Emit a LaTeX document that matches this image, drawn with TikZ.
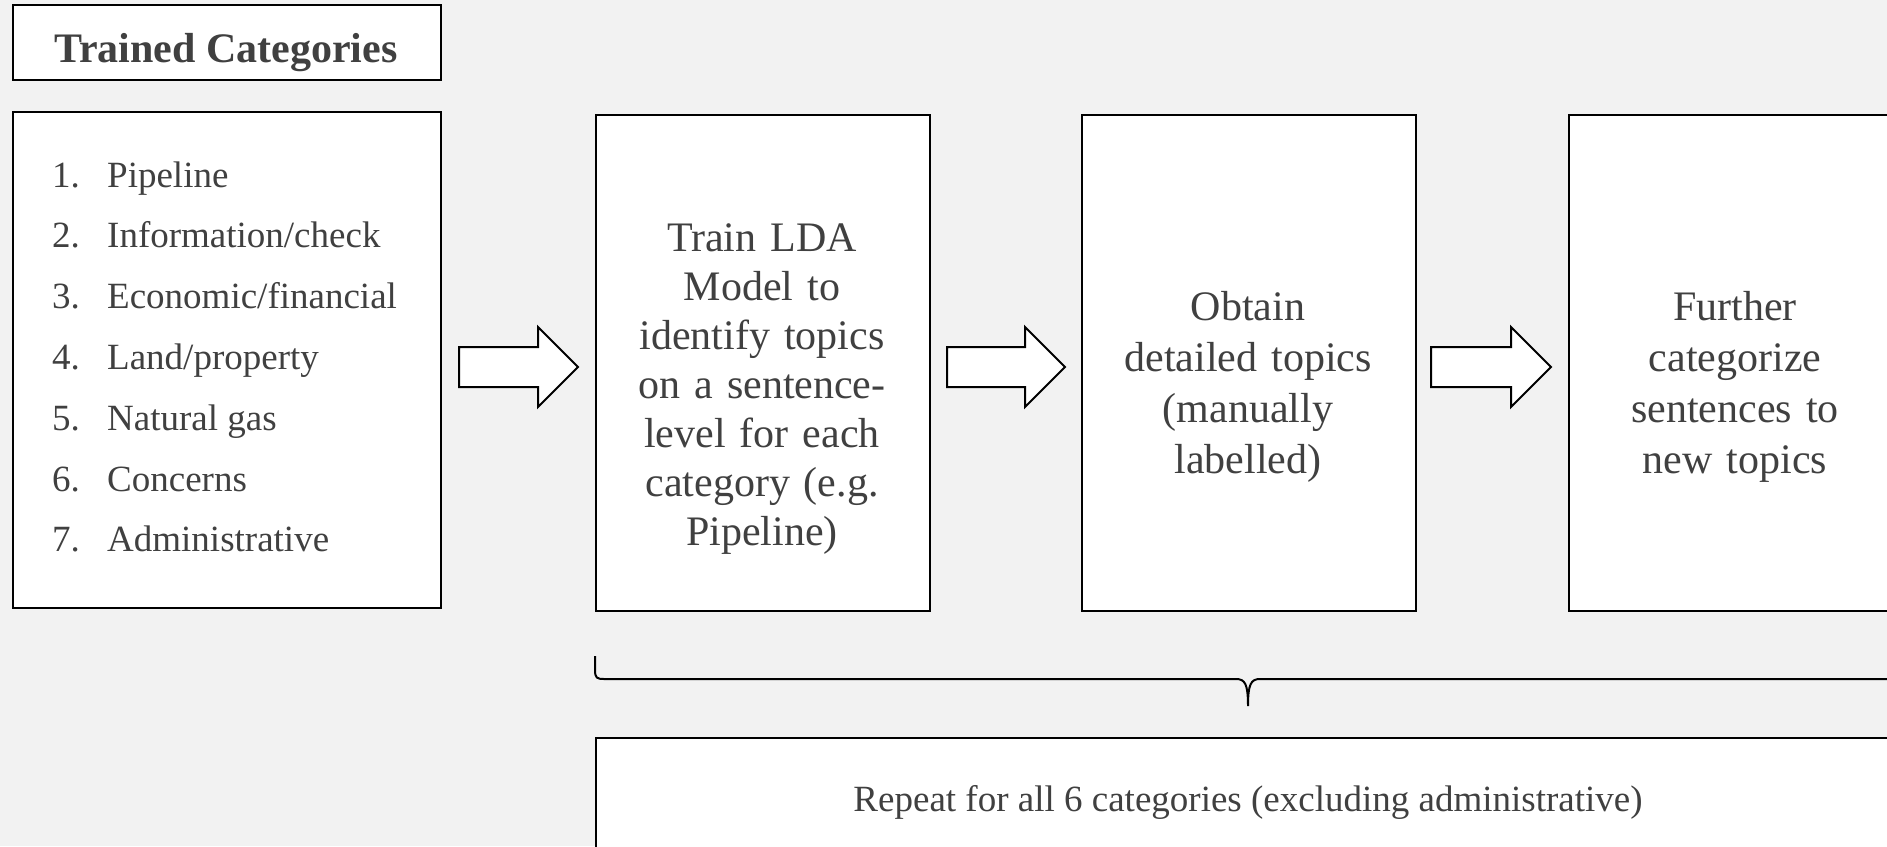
\documentclass[tikz,border=0pt]{standalone}
\usepackage{fontspec}
\setmainfont{Liberation Serif}
\usetikzlibrary{calc}
\definecolor{bgc}{HTML}{F2F2F2}
\definecolor{txt}{HTML}{404040}
\newcommand\blockarr[2]{%
  \draw[blockarrow] ($(#1)+(0,-20)$) -- ($(#2)+(-40,-20)$) -- ($(#2)+(-40,-40)$) -- (#2)
    -- ($(#2)+(-40,40)$) -- ($(#2)+(-40,20)$) -- ($(#1)+(0,20)$) -- cycle;}
\begin{document}
\begin{tikzpicture}[x=1pt,y=-1pt,
  box/.style={draw=black, fill=white, line width=2pt, inner sep=0pt, anchor=north west},
  boxtext/.style={text=txt, text width=330pt, align=center, anchor=base, inner sep=0pt},
  listtext/.style={text=txt, anchor=base west, inner sep=0pt, font=\fontsize{37}{44}\selectfont},
  blockarrow/.style={draw=black, fill=white, line width=2pt, line join=miter},
  bracestyle/.style={draw=black, line width=2pt}]
\useasboundingbox (0,0) rectangle (1887,846);
\clip (0,0) rectangle (1887,846);
\fill[bgc] (0,0) rectangle (1887,846);

% title
\node[box, minimum width=428pt, minimum height=75pt] (title) at (12,4) {};
\node[text=txt, anchor=base, inner sep=0pt, font=\fontsize{42}{49}\selectfont\bfseries] (titletext) at (226,62) {Trained Categories};

% list box
\node[box, minimum width=428pt, minimum height=496pt] (list) at (12,111) {};
\foreach \n/\t [count=\k from 0] in {1/Pipeline, 2/Information\slash check, 3/Economic\slash financial, 4/Land\slash property, 5/Natural gas, 6/Concerns, 7/Administrative}{
  \node[listtext] (num\n) at (52,187+60.8*\k) {\n.};
  \node[listtext] (item\n) at (107,187+60.8*\k) {\t};
}

% process boxes
\node[box, minimum width=334pt, minimum height=496pt] (b2) at (595,114) {};
\node[box, minimum width=334pt, minimum height=496pt] (b3) at (1081,114) {};
\node[box, minimum width=334pt, minimum height=496pt] (b4) at (1568,114) {};

\node[boxtext, font=\fontsize{42}{49}\selectfont] (t2) at (762,251.5)
  {Train LDA\\ Model to\\ identify topics\\ on a sentence-\\ level for each\\ category (e.g.\\ Pipeline)};
\node[boxtext, font=\fontsize{42}{51}\selectfont] (t3) at (1248,320.5)
  {Obtain\\ detailed topics\\ (manually\\ labelled)};
\node[boxtext, font=\fontsize{42}{51}\selectfont] (t4) at (1735,320.5)
  {Further\\ categorize\\ sentences to\\ new topics};

% block arrows
\coordinate (a1s) at (459,367); \coordinate (a1e) at (578,367);
\coordinate (a2s) at (947,367); \coordinate (a2e) at (1065,367);
\coordinate (a3s) at (1431,367); \coordinate (a3e) at (1551,367);
\blockarr{a1s}{a1e}
\blockarr{a2s}{a2e}
\blockarr{a3s}{a3e}

% brace
\coordinate (brL) at (595,656);
\coordinate (brT) at (1248,706);
\coordinate (brR) at (1901,656);
\draw[bracestyle] (brL) -- (595,670) .. controls (595,678) and (597,679) .. (604,679)
  -- (1236,679) .. controls (1245,679) and (1248,684) .. (brT)
  .. controls (1248,684) and (1251,679) .. (1260,679)
  -- (1892,679) .. controls (1899,679) and (1901,678) .. (1901,670) -- (brR);

% bottom box
\node[box, minimum width=1306pt, minimum height=150pt] (rep) at (595,737) {};
\node[text=txt, anchor=base, inner sep=0pt, font=\fontsize{37}{44}\selectfont] (reptext) at (1248,811)
  {Repeat for all 6 categories (excluding administrative)};
\end{tikzpicture}
\end{document}
